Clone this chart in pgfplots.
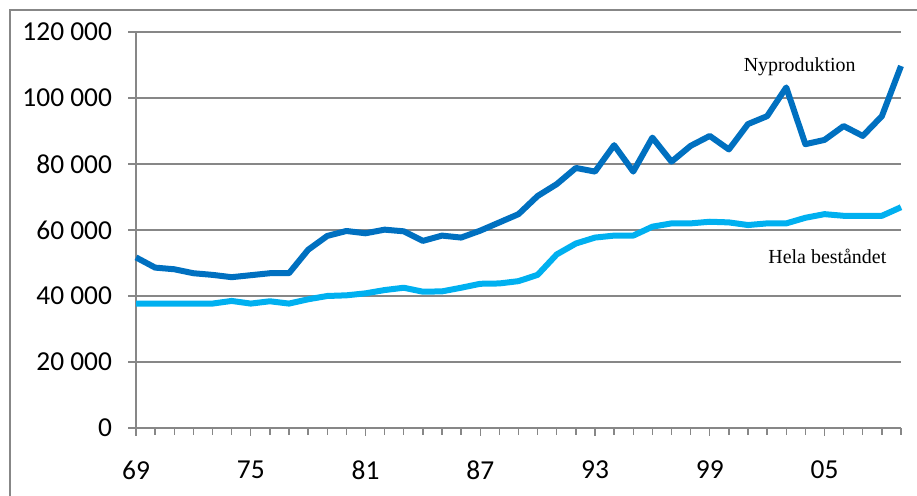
\documentclass[border=0pt]{standalone}
\usepackage{pgfplots}
\pgfplotsset{compat=1.18}
\usepackage{pgfplotstable}
\usepackage{fontspec}
\setmainfont{Carlito}
\newfontfamily\seriffont{Liberation Serif}
\definecolor{dblue}{HTML}{0070C0}
\definecolor{lblue}{HTML}{00B0F0}
\definecolor{gridgray}{HTML}{878787}
\pgfplotstableread{
year ny hela
1969 51700 37700
1970 48600 37700
1971 48100 37700
1972 46900 37700
1973 46400 37700
1974 45700 38500
1975 46300 37700
1976 46900 38400
1977 46900 37700
1978 54000 39000
1979 58200 40000
1980 59700 40200
1981 59000 40800
1982 60100 41800
1983 59600 42500
1984 56700 41300
1985 58300 41400
1986 57700 42500
1987 59800 43700
1988 62300 43800
1989 64800 44500
1990 70300 46400
1991 73900 52600
1992 78800 55900
1993 77700 57700
1994 85700 58300
1995 77700 58300
1996 88000 61000
1997 80700 62000
1998 85500 62000
1999 88500 62500
2000 84400 62300
2001 92100 61500
2002 94500 62000
2003 103200 62000
2004 86000 63700
2005 87300 64800
2006 91500 64300
2007 88500 64300
2008 94500 64300
2009 109700 66900
}\datatable
\begin{document}
\begin{tikzpicture}[x=1bp,y=1bp]
\useasboundingbox (0,0) rectangle (917,496);
\draw[gridgray, line width=1.4bp] (10,-5) -- (10,486) -- (930,486);
\begin{axis}[
  at={(136bp,68bp)}, anchor=south west,
  scale only axis, width=765bp, height=396bp,
  xmin=1969, xmax=2009, ymin=0, ymax=120000,
  scaled y ticks=false, scaled x ticks=false,
  axis x line*=bottom, axis y line*=left,
  axis line style={gridgray, line width=1.4bp},
  ymajorgrids, grid style={gridgray, line width=1.4bp},
  ytick={0,20000,40000,60000,80000,100000,120000},
  yticklabels={0,20 000,40 000,60 000,80 000,100 000,120 000},
  xtick={1969,1975,1981,1987,1993,1999,2005},
  xticklabels={69,75,81,87,93,99,05},
  minor xtick={1969,1970,...,2009},
  tick align=outside,
  major tick length=8bp, minor tick length=7bp,
  tick style={gridgray, line width=1.4bp},
  ticklabel style={font=\fontsize{27.5}{32}\selectfont, text=black},
  xticklabel style={yshift=-21bp},
  yticklabel style={xshift=-12.5bp},
  clip=false,
  line join=round,
]
\addplot[dblue, line width=6bp, no marks] table[x=year, y=ny] {\datatable};
\addplot[lblue, line width=6bp, no marks] table[x=year, y=hela] {\datatable};
\node[font=\seriffont\fontsize{20}{24}\selectfont] at (axis cs:2003.7,109500) {Nyproduktion};
\node[font=\seriffont\fontsize{20}{24}\selectfont] at (axis cs:2005.15,52100) {Hela beståndet};
\end{axis}
\end{tikzpicture}
\end{document}
